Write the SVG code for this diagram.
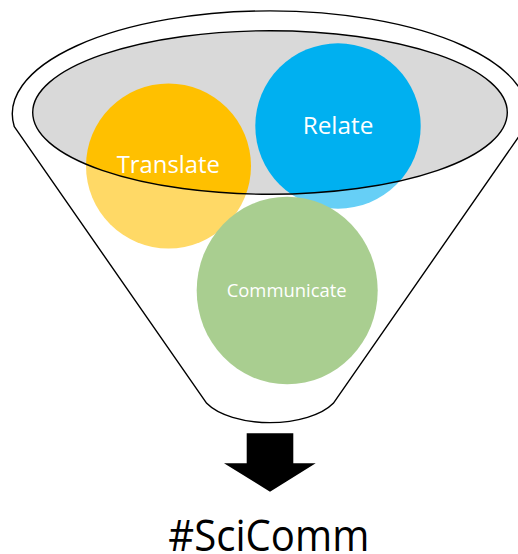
<svg xmlns="http://www.w3.org/2000/svg" width="518" height="554" viewBox="0 0 518 554">
  <style>
    .outline { fill: none; stroke: #000; stroke-width: 1.4; stroke-linejoin: round; }
    .lbl { font-family: "Open Sans", "Noto Sans", "Liberation Sans", sans-serif; fill: #fff; text-anchor: middle; }
  </style>
  <rect x="0" y="0" width="518" height="554" fill="#fff"/>
  <g id="funnel-back">
    <ellipse cx="270" cy="112.5" rx="237.3" ry="81.8" fill="#D9D9D9"/>
  </g>
  <g id="translate">
    <circle cx="168.5" cy="166" r="82.5" fill="#FFC000"/>
  </g>
  <g id="relate">
    <circle cx="338" cy="126" r="82.7" fill="#00B0F0"/>
  </g>
  <g id="communicate">
    <ellipse cx="287.2" cy="290.5" rx="90.5" ry="93.8" fill="#70AD47"/>
  </g>
  <g id="funnel-front">
    <path d="M0,0 H518 V554 H0 Z M32.7,112.5 A237.3,81.8 0 1 0 507.3,112.5 A237.3,81.8 0 1 0 32.7,112.5 Z" fill="#fff" fill-opacity="0.4" fill-rule="evenodd"/>
    <path class="outline" d="M14.3,126.7 A257.7,103 0 1 1 525.7,126.7 L333.3,403.3 A70,33.7 0 0 1 206.7,403.3 Z"/>
    <ellipse class="outline" cx="270" cy="112.5" rx="237.3" ry="81.8"/>
  </g>
  <g id="labels">
    <text class="lbl" x="168.3" y="173.3" font-size="24.3" textLength="103.3" lengthAdjust="spacingAndGlyphs">Translate</text>
    <text class="lbl" x="338" y="134" font-size="24.5" textLength="70.7" lengthAdjust="spacingAndGlyphs">Relate</text>
    <text class="lbl" x="286.7" y="297.3" font-size="19" textLength="120" lengthAdjust="spacingAndGlyphs">Communicate</text>
  </g>
  <g id="connectors">
    <path d="M246.7,433.3 H293.3 V463.3 H315.7 L270,491.7 L224,463.3 H246.7 Z" fill="#000"/>
  </g>
  <g id="result">
    <text x="268.8" y="551" font-family="'Open Sans', 'Noto Sans', 'Liberation Sans', sans-serif" font-size="44.5" fill="#000" text-anchor="middle" textLength="201" lengthAdjust="spacingAndGlyphs">#SciComm</text>
  </g>
</svg>
